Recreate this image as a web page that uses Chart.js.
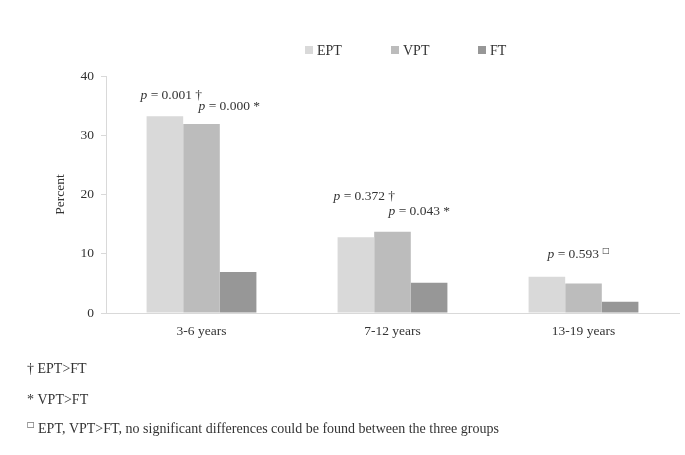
<!DOCTYPE html>
<html>
<head>
<meta charset="utf-8">
<script src="https://cdn.jsdelivr.net/npm/chart.js@4"></script>
<style>
    html, body { margin: 0; padding: 0; background: #fff; }
    #wrap { width: 685px; height: 455px; position: relative; }
</style>
</head>
<body>
<div id="wrap"><canvas id="ageChart"></canvas></div>
<script>
const categories = ['3-6 years', '7-12 years', '13-19 years'];
const groups = ['EPT', 'VPT', 'FT'];
const eptValues = [33.2, 12.8, 6.1];
const vptValues = [31.9, 13.7, 5.0];
const ftValues = [6.9, 5.1, 1.9];
const yTicks = [0, 10, 20, 30, 40];

// p-value notes above the bars
const noteCategory = [0, 0, 1, 1, 2];
const noteLevel = [36.8, 34.8, 19.7, 17.2, 9.8];
const noteText = [' = 0.001 †', ' = 0.000 *', ' = 0.372 †', ' = 0.043 *', ' = 0.593 '];
const noteSquare = [false, false, false, false, true];

const footMarks = ['†', '*', '□'];
const footTexts = [
    ' EPT>FT',
    ' VPT>FT',
    ' EPT, VPT>FT, no significant differences could be found between the three groups'
];

const barColors = ['#d9d9d9', '#bcbcbc', '#979797'];
const serif = "'Liberation Serif', 'Times New Roman', serif";
const textColor = '#333333';

const noteShift = [-61, -3, -59, -4, -36];
const legendX = [305, 391, 478];

const extrasPlugin = {
    id: 'extras',
    afterDraw(chart) {
        const ctx = chart.ctx;
        const xs = chart.scales.x;
        const ys = chart.scales.y;
        ctx.save();
        ctx.fillStyle = textColor;
        ctx.textBaseline = 'middle';
        ctx.textAlign = 'left';

        // notes
        noteText.forEach((t, i) => {
            let x = xs.getPixelForValue(noteCategory[i]) + noteShift[i];
            const y = ys.getPixelForValue(noteLevel[i]);
            ctx.font = 'italic 13.5px ' + serif;
            ctx.fillText('p', x, y);
            x += ctx.measureText('p').width;
            ctx.font = '13.5px ' + serif;
            ctx.fillText(t, x, y);
            x += ctx.measureText(t).width;
            if (noteSquare[i]) {
                ctx.font = "8px 'DejaVu Sans', sans-serif";
                ctx.fillText('□', x, y - 4);
            }
        });

        // legend
        chart.data.datasets.forEach((ds, i) => {
            ctx.fillStyle = ds.backgroundColor;
            ctx.fillRect(legendX[i], 46, 8, 8);
            ctx.fillStyle = textColor;
            ctx.font = '14px ' + serif;
            ctx.fillText(ds.label, legendX[i] + 12, 51);
        });

        // footnotes
        const footY = [369, 400, 429];
        footTexts.forEach((t, i) => {
            let x = 27;
            if (footMarks[i] === '□') {
                ctx.font = "8px 'DejaVu Sans', sans-serif";
                ctx.fillText(footMarks[i], x, footY[i] - 4);
                x += ctx.measureText(footMarks[i]).width;
            } else {
                ctx.font = '14px ' + serif;
                ctx.fillText(footMarks[i], x, footY[i]);
                x += ctx.measureText(footMarks[i]).width;
            }
            ctx.font = '14px ' + serif;
            ctx.fillText(t, x, footY[i]);
        });
        ctx.restore();
    }
};

const ctx = document.getElementById('ageChart').getContext('2d');
new Chart(ctx, {
    type: 'bar',
    data: {
        labels: categories,
        datasets: [
            { label: groups[0], data: eptValues, backgroundColor: barColors[0] },
            { label: groups[1], data: vptValues, backgroundColor: barColors[1] },
            { label: groups[2], data: ftValues, backgroundColor: barColors[2] }
        ]
    },
    options: {
        responsive: true,
        maintainAspectRatio: false,
        animation: false,
        datasets: { bar: { barPercentage: 1, categoryPercentage: 0.575 } },
        layout: { padding: { top: 76, right: 6, left: 0, bottom: 0 } },
        plugins: {
            legend: { display: false },
            tooltip: { enabled: false }
        },
        scales: {
            x: {
                grid: { display: true, drawOnChartArea: false, drawTicks: false },
                border: { color: '#d9d9d9' },
                ticks: { color: textColor, font: { family: serif, size: 13.5 }, padding: 10 },
                afterFit: s => { s.height = 142; }
            },
            y: {
                min: 0,
                max: 40,
                afterBuildTicks: s => { s.ticks = yTicks.map(v => ({ value: v })); },
                ticks: { color: textColor, font: { family: serif, size: 13.5 }, padding: 7 },
                grid: { drawOnChartArea: false, tickLength: 5, color: '#d9d9d9' },
                border: { color: '#d9d9d9' },
                title: {
                    display: true,
                    text: 'Percent',
                    color: textColor,
                    font: { family: serif, size: 13.5 },
                    padding: { top: 52, bottom: 0 }
                },
                afterFit: s => { s.width = 106; }
            }
        }
    },
    plugins: [extrasPlugin]
});
</script>
</body>
</html>
